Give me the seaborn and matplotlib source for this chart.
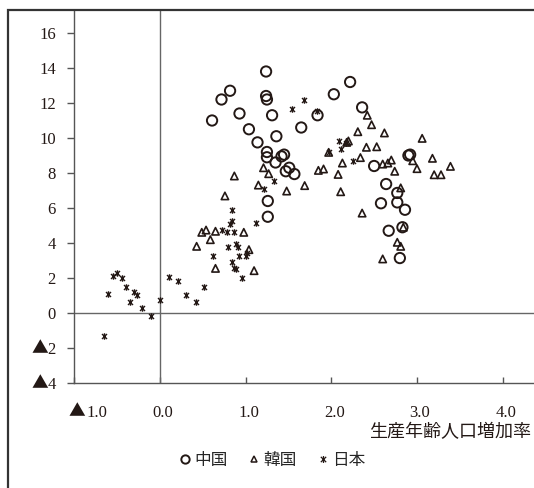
import numpy as np
import pandas as pd
import matplotlib
matplotlib.use('Agg')
import matplotlib.pyplot as plt
import matplotlib.transforms as mtransforms
from matplotlib.lines import Line2D
from matplotlib.patches import Rectangle
from matplotlib.path import Path
import seaborn as sns

# 中国
china_x = [1.24, 1.24, 1.25, 0.82, 0.72, 0.61, 0.93, 1.31, 1.04, 1.65, 1.84, 2.03, 2.22,
           1.36, 1.14, 1.25, 1.25, 1.35, 1.45, 1.42, 1.47, 1.51, 1.57, 1.26, 1.26, 2.36,
           2.50, 2.90, 2.92, 2.64, 2.77, 2.58, 2.77, 2.86, 2.83, 2.67, 2.80]
china_y = [13.8, 12.4, 12.2, 12.7, 12.2, 11.0, 11.4, 11.3, 10.5, 10.6, 11.3, 12.5, 13.2,
           10.1, 9.75, 9.2, 8.9, 8.6, 9.05, 8.95, 8.1, 8.3, 7.94, 6.4, 5.5, 11.75,
           8.4, 9.0, 9.05, 7.37, 6.86, 6.27, 6.32, 5.9, 4.9, 4.7, 3.14]

# 韓国
korea_x = [0.87, 1.21, 1.27, 1.15, 1.48, 1.69, 1.85, 1.91, 2.08, 2.13, 2.11, 1.97, 0.76,
           0.49, 0.54, 0.65, 0.59, 0.98, 0.43, 1.04, 0.65, 1.10, 2.42, 2.47, 2.31, 2.62,
           3.06, 2.20, 2.18, 2.41, 2.53, 2.34, 2.60, 2.66, 2.70, 2.74, 2.95, 3.18, 3.00,
           3.39, 3.20, 3.28, 2.81, 2.36, 2.84, 2.77, 2.81, 2.60]
korea_y = [7.83, 8.3, 7.96, 7.31, 6.97, 7.28, 8.15, 8.23, 7.92, 8.57, 6.93, 9.18, 6.69,
           4.61, 4.74, 4.67, 4.19, 4.61, 3.81, 3.62, 2.55, 2.42, 11.3, 10.76, 10.36, 10.29,
           9.98, 9.83, 9.75, 9.47, 9.50, 8.88, 8.51, 8.57, 8.74, 8.1, 8.7, 8.84, 8.25,
           8.38, 7.90, 7.90, 7.15, 5.71, 4.9, 4.04, 3.81, 3.09]

# 日本
japan_x = [-0.54, -0.50, -0.44, -0.60, -0.39, -0.30, -0.26, -0.35, -0.21, -0.10, 0.0,
           0.11, 0.21, 0.31, -0.65, 0.42, 0.52, 0.84, 0.84, 0.82, 0.73, 0.78, 0.87,
           0.80, 0.89, 0.91, 0.92, 1.01, 1.02, 0.62, 0.84, 0.87, 0.89, 0.96, 1.12,
           1.33, 1.21, 1.68, 1.54, 1.83, 2.09, 2.17, 2.11, 2.25, 1.97]
japan_y = [2.13, 2.27, 2.0, 1.09, 1.47, 1.18, 1.03, 0.65, 0.29, -0.15, 0.74,
           2.04, 1.81, 1.03, -1.33, 0.65, 1.47, 5.9, 5.27, 5.09, 4.76, 4.61, 4.61,
           3.75, 3.94, 3.75, 3.27, 3.27, 3.43, 3.24, 2.9, 2.55, 2.51, 1.98, 5.13,
           7.53, 7.09, 12.17, 11.64, 11.56, 9.85, 9.70, 9.37, 8.70, 9.18]

x_ticks = [-1, 0, 1, 2, 3, 4]
y_ticks = [-4, -2, 0, 2, 4, 6, 8, 10, 12, 14, 16]

df_cn = pd.DataFrame({'x': china_x, 'y': china_y})
df_kr = pd.DataFrame({'x': korea_x, 'y': korea_y})
df_jp = pd.DataFrame({'x': japan_x, 'y': japan_y})

# excel-like star marker: X plus vertical bar
star = Path([(-1, -1), (1, 1), (-1, 1), (1, -1), (0, -1.3), (0, 1.3)],
            [Path.MOVETO, Path.LINETO, Path.MOVETO, Path.LINETO, Path.MOVETO, Path.LINETO])

ink = '#231815'
cjk = ['Noto Sans CJK JP', 'DejaVu Sans']

sns.set_style('white')
plt.rcParams['font.family'] = ['Liberation Serif', 'Noto Sans CJK JP', 'DejaVu Sans']

fig = plt.figure(figsize=(5.34, 4.88), dpi=100)
ax = fig.add_axes([74/534, 105/488, 460/534, 373/488])

ax.axhline(0, color='#666666', lw=1, zorder=1)
ax.axvline(0, color='#666666', lw=1, zorder=1)

sns.scatterplot(data=df_cn, x='x', y='y', marker='o', s=55, facecolors='none',
                edgecolor=ink, linewidth=1.4, ax=ax, zorder=3)
sns.scatterplot(data=df_kr, x='x', y='y', marker='^', s=28, facecolors='none',
                edgecolor=ink, linewidth=1.2, ax=ax, zorder=3)
sns.scatterplot(data=df_jp, x='x', y='y', marker=star, s=22, color=ink,
                edgecolor=ink, linewidth=1.0, ax=ax, zorder=3)

ax.set_xlim(-1, -1 + 460/85.75)
ax.set_ylim(-4, -4 + 373/17.5)
ax.set_xticks(x_ticks)
ax.set_xticklabels([f'{abs(v):.1f}' for v in x_ticks])
ax.set_yticks(y_ticks)
ax.set_yticklabels([f'{abs(v)}' for v in y_ticks])
ax.set_xlabel('')
ax.set_ylabel('')

for s in ['top', 'right']:
    ax.spines[s].set_visible(False)
for s in ['left', 'bottom']:
    ax.spines[s].set_color('#555555')
    ax.spines[s].set_linewidth(1)

ax.tick_params(axis='y', direction='out', length=5, width=1, color='#555555',
               pad=8, labelsize=12, left=True)
ax.tick_params(axis='x', direction='in', length=4, width=1, color='#555555',
               pad=16, labelsize=12, bottom=True)
for lab in ax.get_xticklabels() + ax.get_yticklabels():
    lab.set_color(ink)
# labels sit a little right of their ticks in the original
for v, lab in zip(x_ticks, ax.get_xticklabels()):
    dx = 23 if v < 0 else 3
    lab.set_transform(lab.get_transform() + mtransforms.ScaledTranslation(dx/100, 0, fig.dpi_scale_trans))

# ▲ is the Japanese minus sign: draw it in the wide CJK glyph
for v in x_ticks:
    if v < 0:
        ax.annotate('▲', xy=(v, 0), xycoords=('data', 'axes fraction'),
                    xytext=(11, -29), textcoords='offset pixels', ha='right', va='center',
                    fontsize=12, color=ink, family=cjk)
for v in y_ticks:
    if v < 0:
        ax.annotate('▲', xy=(0, v), xycoords=('axes fraction', 'data'),
                    xytext=(-26, -1), textcoords='offset pixels', ha='right', va='center',
                    fontsize=12, color=ink, family=cjk)

# outer frame
fig.add_artist(Rectangle((8/534, -0.2), 2, (478/488) + 0.2, transform=fig.transFigure,
                         fill=False, edgecolor='#333333', lw=1.6))

fig.text(531/534, 1 - 432/488, '生産年齢人口増加率', ha='right', va='center',
         fontsize=13, color=ink, family=cjk)

handles = [
    Line2D([], [], ls='none', marker='o', ms=6, mfc='none', mec=ink, mew=1.4),
    Line2D([], [], ls='none', marker='^', ms=5, mfc='none', mec=ink, mew=1.1),
    Line2D([], [], ls='none', marker=star, ms=5, color=ink, mew=0.9),
]
fig.legend(handles, ['中国', '韓国', '日本'], loc='center', ncol=3,
           bbox_to_anchor=(272/534, 1 - 460/488), frameon=False,
           handlelength=0.8, handletextpad=0.15, columnspacing=1.2,
           prop={'family': cjk, 'size': 12})

fig.savefig('out.png', dpi=100)
